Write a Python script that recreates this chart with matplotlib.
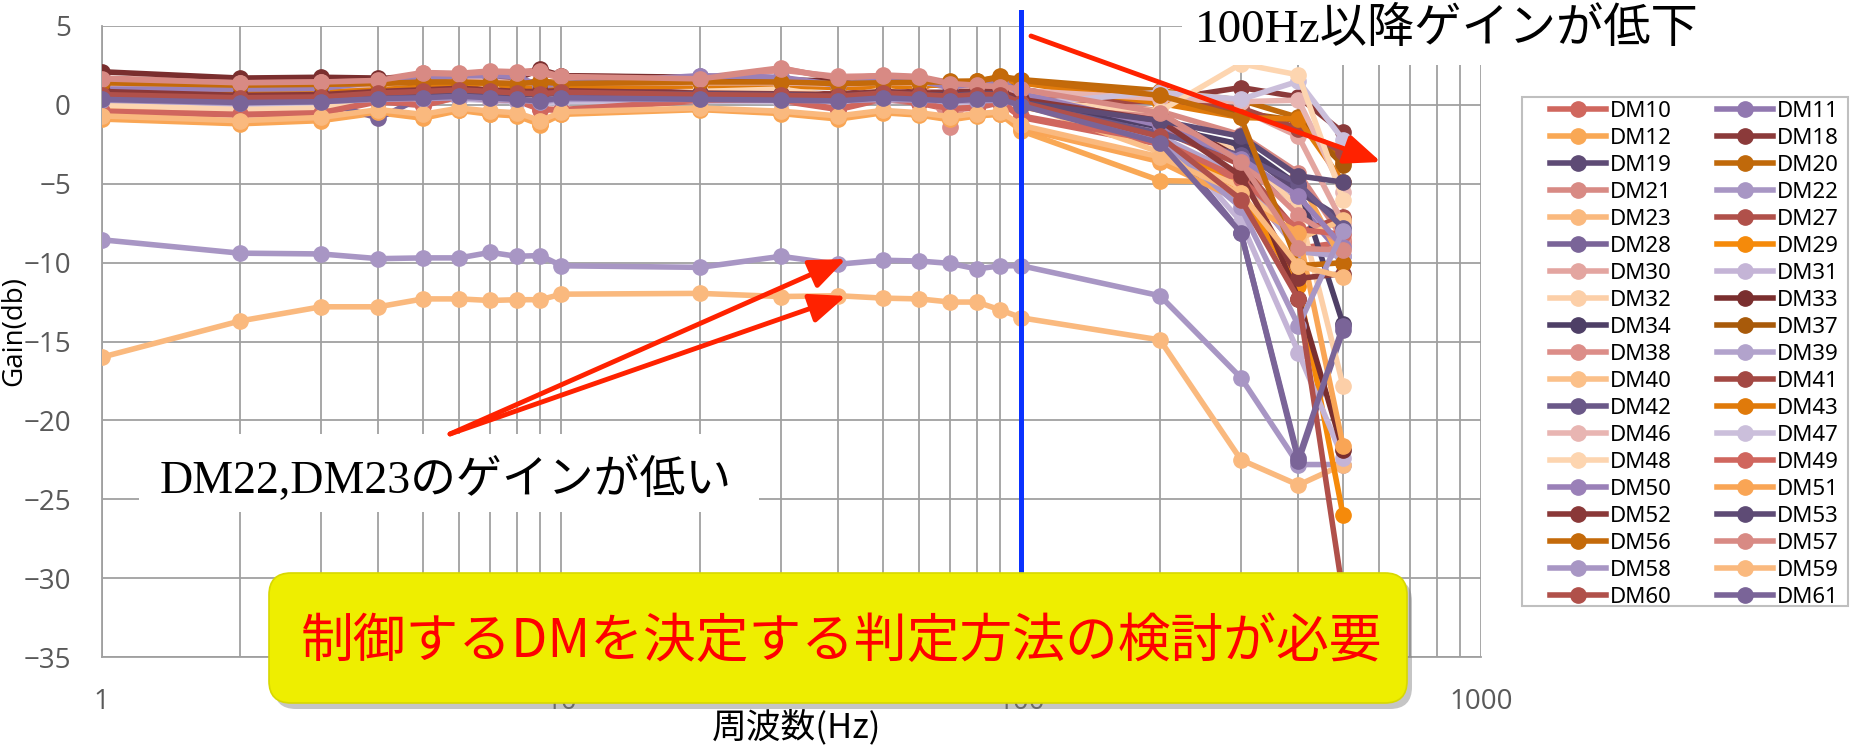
import matplotlib
matplotlib.use('Agg')
import matplotlib.pyplot as plt
from matplotlib.patches import FancyBboxPatch, Rectangle, FancyArrowPatch
from matplotlib.ticker import LogLocator, NullFormatter

# 周波数 (Hz)
freq = [1, 2, 3, 4, 5, 6, 7, 8, 9, 10, 20, 30, 40, 50, 60, 70, 80, 90, 100, 200, 300, 400, 500]

# ゲイン (db)
dm10 = [-0.45, -0.65, -0.55, 0.2, -0.05, 0.5, 0.3, 0.25, -0.3, -0.35, 0.25, 0.25, -0.3, 0.35, 0.1, -0.3, -0.2, 0.15, -0.8, -2.5, -4.9, -9.1, -8.7]
dm11 = [0.95, 0.95, 1.0, 1.4, 1.55, 1.8, 1.8, 1.75, 1.1, 1.3, 1.8, 1.7, 1.2, 1.7, 1.45, 1.1, 1.3, 1.5, 0.65, -1.5, -3.6, -6.3, -9.6]
dm12 = [-0.9, -1.2, -1.0, -0.5, -0.85, -0.35, -0.6, -0.7, -1.25, -0.6, -0.3, -0.55, -0.9, -0.5, -0.65, -0.95, -0.7, -0.6, -1.65, -4.8, -4.9, -4.6, -10.0]
dm18 = [0.9, 0.65, 0.7, 0.9, 1.0, 1.1, 1.0, 0.9, 0.9, 0.95, 0.8, 0.75, 0.7, 0.9, 0.8, 0.8, 0.9, 0.9, 0.4, 0.3, 1.1, 0.5, -1.75]
dm19 = [0.5, 0.35, 0.4, 0.7, 0.8, 0.9, 0.8, 0.7, 0.7, 0.8, 0.75, 0.7, 0.6, 0.8, 0.7, 0.7, 0.8, 0.75, 0.2, -1.2, -2.8, -5.5, -7.25]
dm20 = [1.45, 1.3, 1.35, 1.4, 1.5, 1.5, 1.45, 1.4, 1.5, 1.4, 1.5, 1.5, 1.4, 1.45, 1.5, 1.5, 1.5, 1.8, 1.6, 0.9, 0.3, -0.8, -3.65]
dm21 = [1.7, 1.45, 1.5, 1.6, 2.05, 2.0, 2.15, 2.1, 2.2, 1.85, 1.7, 2.35, 1.6, 1.9, 1.8, 1.4, 1.3, 1.2, 1.0, -0.4, -1.9, -4.3, -8.5]
dm22 = [-8.55, -9.4, -9.45, -9.75, -9.7, -9.7, -9.35, -9.6, -9.55, -10.2, -10.3, -9.6, -10.1, -9.85, -9.9, -10.05, -10.4, -10.2, -10.2, -12.1, -17.3, -22.8, -22.8]
dm23 = [-16.0, -13.7, -12.8, -12.8, -12.3, -12.3, -12.4, -12.35, -12.35, -12.0, -11.95, -12.15, -12.1, -12.25, -12.3, -12.5, -12.5, -13.0, -13.5, -14.9, -22.5, -24.1, -22.8]
dm27 = [0.7, 0.5, 0.55, 0.8, 0.9, 1.0, 0.9, 0.8, 0.75, 0.85, 0.7, 0.65, 0.6, 0.8, 0.7, 0.6, 0.7, 0.7, 0.2, -1.6, -3.8, -8.1, -7.1]
dm28 = [0.4, 0.2, 0.25, -0.85, 0.5, 0.6, 0.5, 0.4, 0.3, 0.5, 0.4, 0.35, 0.3, 0.5, 0.4, 0.3, 0.4, 0.4, 0.0, -1.8, -8.1, -22.6, -14.3]
dm29 = [0.45, 0.3, 0.35, 0.6, 0.7, 0.75, 0.6, 0.6, 0.5, 0.6, 0.55, 0.5, 0.4, 0.6, 0.5, 0.4, 0.5, 0.5, -0.1, -1.9, -5.5, -11.5, -26.0]
dm30 = [1.2, 1.0, 1.05, 1.2, 1.4, 1.5, 1.4, 1.3, 1.3, 1.35, 1.3, 1.3, 1.2, 1.3, 1.3, 1.2, 1.2, 1.1, 0.8, 0.7, -0.3, -2.0, -7.5]
dm31 = [0.2, 0.0, 0.2, 0.3, 0.35, 0.4, 0.35, 0.25, 0.1, 0.3, 0.3, 0.25, 0.2, 0.35, 0.3, 0.2, 0.25, 0.3, 0.1, -1.5, -7.4, -15.7, -22.4]
dm32 = [0.1, -0.2, -0.1, 0.4, 0.3, 0.8, 1.0, 0.6, 0.4, 0.5, 0.9, 1.05, 0.5, 1.0, 0.65, 0.5, 0.6, 0.6, 0.3, -1.0, -3.0, -6.5, -17.8]
dm33 = [2.1, 1.7, 1.75, 1.7, 1.65, 1.8, 1.7, 1.65, 2.25, 1.85, 1.75, 1.6, 1.5, 1.6, 1.6, 1.4, 1.3, 1.3, 1.0, -0.6, -3.4, -12.3, -21.9]
dm34 = [0.55, 0.4, 0.45, 0.6, 0.7, 0.8, 0.7, 0.6, 0.6, 0.7, 0.7, 0.65, 0.55, 0.7, 0.6, 0.55, 0.6, 0.6, 0.2, -1.4, -2.5, -5.1, -13.9]
dm37 = [1.35, 1.2, 1.25, 1.3, 1.4, 1.4, 1.35, 1.3, 1.4, 1.3, 1.35, 1.4, 1.3, 1.35, 1.4, 1.4, 1.45, 1.7, 1.5, 0.5, -0.5, -1.0, -3.8]
dm38 = [1.6, 1.4, 1.45, 1.5, 1.9, 1.9, 2.0, 2.0, 2.0, 1.7, 1.6, 2.2, 1.8, 1.85, 1.7, -1.4, 1.1, 1.0, 0.9, -0.8, -3.5, -7.0, -8.8]
dm39 = [0.25, 0.05, 0.15, 0.3, 0.35, 0.4, 0.3, 0.25, 0.15, 0.3, 0.3, 0.25, 0.2, 0.3, 0.25, 0.2, 0.2, 0.25, 0.0, -2.0, -4.5, -9.3, -9.6]
dm40 = [-0.1, -0.35, -0.3, 0.3, 0.2, 0.7, 0.9, 0.5, 0.2, 0.4, 0.8, 0.9, 0.45, 0.8, 0.55, 0.35, 0.45, 0.5, 0.1, -3.0, -5.2, -8.5, -7.3]
dm41 = [0.8, 0.6, 0.65, 0.85, 0.95, 1.05, 0.95, 0.85, 0.85, 0.9, 0.8, 0.7, 0.65, 0.85, 0.75, 0.7, 0.8, 0.8, 0.3, 0.2, -0.2, -1.5, -3.0]
dm42 = [0.5, 0.3, 0.35, 0.55, 0.65, 0.75, 0.65, 0.6, 0.55, 0.65, 0.6, 0.55, 0.5, 0.65, 0.6, 0.5, 0.55, 0.55, 0.1, -1.8, -3.2, -5.0, -7.8]
dm43 = [1.1, 0.9, 0.95, 1.0, 1.1, 1.2, 1.1, 1.05, 1.1, 1.1, 1.2, 1.2, 1.1, 1.15, 1.2, 1.3, 1.3, 1.6, 1.4, 0.1, -0.8, -0.9, -4.9]
dm46 = [1.3, 1.1, 1.15, 1.3, 1.5, 1.6, 1.5, 1.4, 1.4, 1.4, 1.4, 1.4, 1.3, 1.4, 1.4, 1.3, 1.3, 1.2, 0.9, 0.4, 0.2, 0.3, -5.5]
dm47 = [0.15, -0.05, 0.1, 0.25, 0.3, 0.35, 0.3, 0.2, 0.05, 0.2, 0.25, 0.2, 0.15, 0.3, 0.25, 0.15, 0.2, 0.25, 0.05, 0.8, 0.35, 1.5, -2.2]
dm48 = [0.0, -0.3, -0.2, 0.35, 0.25, 0.75, 1.1, 0.55, 0.3, 0.45, 0.85, 1.0, 0.5, 0.95, 0.6, 0.45, 0.55, 0.55, 0.25, -0.4, 2.6, 1.9, -6.0]
dm49 = [-0.4, -0.6, -0.5, 0.25, 0.0, 0.5, 0.35, 0.3, -0.25, -0.3, 0.3, 0.3, -0.25, 0.4, 0.15, -0.25, -0.15, 0.2, -0.7, -2.3, -4.7, -7.9, -8.2]
dm50 = [1.0, 1.0, 1.05, 1.45, 1.6, 1.85, 1.85, 1.8, 1.2, 1.35, 1.85, 1.75, 1.25, 1.75, 1.5, 1.15, 1.35, 1.55, 0.7, -1.3, -3.4, -5.8, -9.0]
dm51 = [-0.85, -1.15, -0.95, -0.45, -0.8, -0.3, -0.55, -0.65, -1.2, -0.55, -0.25, -0.5, -0.85, -0.45, -0.6, -0.9, -0.65, -0.55, -1.5, -3.6, -6.1, -8.1, -21.6]
dm52 = [0.85, 0.6, 0.65, 0.85, 0.95, 1.05, 0.95, 0.85, 0.85, 0.9, 0.75, 0.7, 0.65, 0.85, 0.75, 0.75, 0.85, 0.85, 0.35, -1.0, -4.5, -11.0, -10.7]
dm53 = [0.45, 0.3, 0.35, 0.65, 0.75, 0.85, 0.75, 0.65, 0.65, 0.75, 0.7, 0.65, 0.55, 0.75, 0.65, 0.6, 0.7, 0.7, 0.15, -1.0, -2.0, -4.5, -4.9]
dm56 = [1.4, 1.25, 1.3, 1.35, 1.45, 1.45, 1.4, 1.35, 1.45, 1.35, 1.45, 1.45, 1.35, 1.4, 1.45, 1.45, 1.5, 1.75, 1.55, 0.6, -0.8, -10.2, -10.0]
dm57 = [1.65, 1.4, 1.45, 1.55, 2.0, 1.95, 2.1, 2.05, 2.15, 1.8, 1.65, 2.3, 1.7, 1.85, 1.75, 1.35, 1.25, 1.15, 1.0, -0.5, -3.6, -9.1, -9.2]
dm58 = [0.3, 0.1, 0.2, 0.35, 0.4, 0.45, 0.35, 0.3, 0.2, 0.35, 0.35, 0.3, 0.25, 0.35, 0.3, 0.25, 0.25, 0.3, 0.05, -2.2, -6.5, -14.0, -8.0]
dm59 = [-0.7, -1.0, -0.8, -0.3, -0.6, -0.2, -0.4, -0.5, -1.0, -0.45, -0.2, -0.4, -0.7, -0.35, -0.5, -0.75, -0.55, -0.45, -1.3, -3.3, -5.6, -10.2, -10.9]
dm60 = [0.65, 0.45, 0.5, 0.75, 0.85, 0.95, 0.85, 0.75, 0.7, 0.8, 0.65, 0.6, 0.55, 0.75, 0.65, 0.55, 0.65, 0.65, 0.15, -2.0, -6.0, -12.3, -31.0]
dm61 = [0.35, 0.15, 0.2, 0.4, 0.45, 0.55, 0.45, 0.35, 0.25, 0.45, 0.35, 0.3, 0.25, 0.45, 0.35, 0.25, 0.35, 0.35, -0.05, -2.4, -8.1, -22.4, -14.0]

names = ['DM10', 'DM11', 'DM12', 'DM18', 'DM19', 'DM20', 'DM21', 'DM22', 'DM23', 'DM27',
         'DM28', 'DM29', 'DM30', 'DM31', 'DM32', 'DM33', 'DM34', 'DM37', 'DM38', 'DM39',
         'DM40', 'DM41', 'DM42', 'DM43', 'DM46', 'DM47', 'DM48', 'DM49', 'DM50', 'DM51',
         'DM52', 'DM53', 'DM56', 'DM57', 'DM58', 'DM59', 'DM60', 'DM61']
series = [dm10, dm11, dm12, dm18, dm19, dm20, dm21, dm22, dm23, dm27,
          dm28, dm29, dm30, dm31, dm32, dm33, dm34, dm37, dm38, dm39,
          dm40, dm41, dm42, dm43, dm46, dm47, dm48, dm49, dm50, dm51,
          dm52, dm53, dm56, dm57, dm58, dm59, dm60, dm61]

colors = ['#D0675E', '#9178B0', '#F9A855', '#8B3A3A', '#5E4B75', '#C0690A', '#D88A84', '#A896C4',
          '#FAB97E', '#B0504A', '#7A6498', '#F58A0A', '#E3A5A0', '#C4B4D6', '#FCCFA8', '#7A2E2E',
          '#4E3F66', '#A85A0A', '#DC8D88', '#B2A3CC', '#FBC089', '#A34843', '#6A5888', '#E07A0A',
          '#E8B5B2', '#CBBFDB', '#FDD5B0', '#D0665E', '#9A80B8', '#F9A555', '#8A3838', '#5E4B75',
          '#C46A0A', '#D88A84', '#A896C4', '#FAB97E', '#B0504A', '#7A6498']

W, H = 1859, 746
fig = plt.figure(figsize=(W / 100, H / 100), dpi=100)
tr = fig.dpi_scale_trans


def P(x, y):
    # 画像のピクセル座標(左上原点) -> インチ
    return (x / 100, (H - y) / 100)


def rect(x0, y0, x1, y1, **kw):
    return Rectangle(P(x0, y1), (x1 - x0) / 100, (y1 - y0) / 100, transform=tr, **kw)


ax = fig.add_axes([101.5 / W, 1 - 657 / H, 1380 / W, 631 / H])

for name, vals, col in zip(names, series, colors):
    ax.plot(freq, vals, '-o', color=col, lw=4.0, ms=11, label=name, zorder=3)

ax.set_xscale('log')
ax.set_xlim(1, 1000)
ax.set_ylim(-35, 5)
ax.set_yticks(range(-35, 6, 5))
ax.set_xticks([1, 10, 100, 1000])
ax.set_xticklabels(['1', '10', '100', '1000'])
ax.xaxis.set_minor_locator(LogLocator(base=10, subs=range(2, 10)))
ax.xaxis.set_minor_formatter(NullFormatter())
ax.grid(True, which='both', axis='x', color='#A0A0A0', lw=1.3, zorder=0)
ax.grid(True, which='major', axis='y', color='#A0A0A0', lw=1.3, zorder=0)
ax.set_axisbelow(True)
for s in ['top', 'right']:
    ax.spines[s].set_visible(False)
for s in ['left', 'bottom']:
    ax.spines[s].set_color('#A0A0A0')
    ax.spines[s].set_linewidth(1.3)
ax.tick_params(which='both', length=0)
ax.tick_params(axis='y', pad=22, labelsize=20, labelcolor='#595959')
ax.tick_params(axis='x', pad=22, labelsize=20, labelcolor='#595959')
for lab in ax.get_xticklabels() + ax.get_yticklabels():
    lab.set_family('Open Sans')

# 100Hz の縦線
ax.axvline(100, ymin=0, ymax=1.022, color='#0A32FF', lw=3.6, clip_on=False, zorder=6)

# 凡例 (行方向に並べる) 枠は別に描く
fig.add_artist(rect(1522, 97, 1848, 606, fc='none', ec='#BFBFBF', lw=1.5, zorder=1))
handles, labels = ax.get_legend_handles_labels()
order = list(range(0, len(names), 2)) + list(range(1, len(names), 2))
leg = ax.legend([handles[i] for i in order], [labels[i] for i in order], ncol=2,
                loc='upper left', bbox_to_anchor=P(1550, 101), bbox_transform=tr,
                frameon=False, prop={'family': 'Noto Sans', 'size': 16},
                handlelength=2.5, handletextpad=0.18, columnspacing=2.05,
                labelspacing=0.27, borderpad=0, borderaxespad=0)

# 軸ラベル
fig.text(*P(14, 331), 'Gain(db)', transform=tr, rotation=90, ha='center', va='center',
         fontsize=20, family='Open Sans')
fig.text(*P(797, 727), '周波数(Hz)', transform=tr, ha='center', va='center',
         fontsize=25, family=['Noto Sans CJK JP', 'DejaVu Sans'])

serif_jp = ['Liberation Serif', 'Noto Sans CJK JP']
red = '#FF2200'

# 注釈: 右上
fig.add_artist(rect(1182, 0, 1720, 65, fc='white', ec='none', zorder=2))
fig.text(*P(1447, 30), '100Hz以降ゲインが低下', transform=tr, ha='center', va='center',
         fontsize=34, family=serif_jp, zorder=8)

# 注釈: 左下
fig.add_artist(rect(139, 434, 759, 512, fc='white', ec='none', zorder=2))
fig.text(*P(446, 480), 'DM22,DM23のゲインが低い', transform=tr, ha='center', va='center',
         fontsize=33, family=serif_jp, zorder=8)

# 赤い矢印
for a, b in [((1031, 36), (1381, 162)), ((450, 434), (846, 259)), ((450, 434), (846, 296))]:
    fig.add_artist(FancyArrowPatch(P(*a), P(*b), transform=tr,
                                   arrowstyle='-|>,head_length=1.1,head_width=0.45',
                                   mutation_scale=20, lw=3.5, color=red,
                                   shrinkA=0, shrinkB=0, zorder=6))

# 黄色のボックス
fig.add_artist(FancyBboxPatch(P(274, 709), (1407 - 269) / 100, (703 - 573) / 100,
                              boxstyle='round,pad=0,rounding_size=0.22', transform=tr,
                              fc='#7F7F7F', ec='none', alpha=0.45, zorder=4))
fig.add_artist(FancyBboxPatch(P(269, 703), (1407 - 269) / 100, (703 - 573) / 100,
                              boxstyle='round,pad=0,rounding_size=0.22', transform=tr,
                              fc='#EEEE00', ec='#D8D800', lw=1.2, zorder=5))
fig.text(*P(842, 641), '制御するDMを決定する判定方法の検討が必要', transform=tr,
         ha='center', va='center', fontsize=38, color='#FF0000',
         family=['Noto Sans CJK JP', 'DejaVu Sans'], zorder=7)

fig.savefig('out.png', dpi=100)
